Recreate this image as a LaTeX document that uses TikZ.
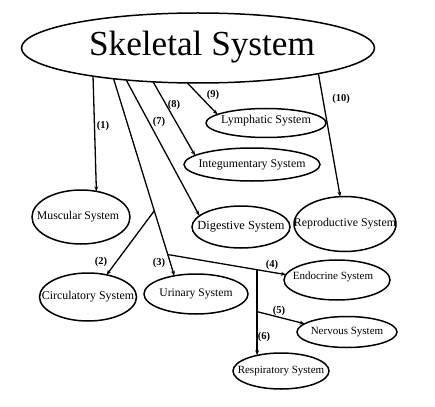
\documentclass[tikz,border=0pt]{standalone}
\usepackage{fontspec}
\setmainfont{Liberation Serif}
\usetikzlibrary{shapes.geometric,arrows.meta}
\tikzset{
  sys/.style={ellipse, draw, line width=1.5pt, inner sep=0pt, outer sep=0pt},
  conn/.style={line width=1.3pt, -{Stealth[length=5pt,width=3.8pt]}},
  thickconn/.style={line width=2pt, -{Stealth[length=5pt,width=3.8pt]}},
  num/.style={font=\bfseries\fontsize{10.5}{12}\selectfont, inner sep=0pt},
}
\newcommand{\fs}[1]{\fontsize{#1}{#1}\selectfont}
\begin{document}
\begin{tikzpicture}[x=1pt,y=-1pt]
\useasboundingbox (0,0) rectangle (435,406);
% nodes
\node[sys, minimum width=353, minimum height=70,
  label={[xshift=4pt,yshift=1pt]center:{\fs{35.2}Skeletal System}}] (sk) at (198,48) {};
\node[sys, minimum width=98, minimum height=54,
  label={[xshift=-3pt]center:{\fs{11.8}Muscular System}}] (mus) at (81,217) {};
\node[sys, minimum width=98, minimum height=42,
  label={center:{\fs{12.4}Digestive System}}] (dig) at (241,227) {};
\node[sys, minimum width=102, minimum height=55,
  label={center:{\fs{11.9}Reproductive System}}] (rep) at (345,224) {};
\node[sys, minimum width=97, minimum height=48,
  label={center:{\fs{11.9}Circulatory System}}] (cir) at (88,297) {};
\node[sys, minimum width=104, minimum height=40,
  label={center:{\fs{11.6}Urinary System}}] (uri) at (196,294) {};
\node[sys, minimum width=106, minimum height=40,
  label={[xshift=-4pt,yshift=3pt]center:{\fs{11}Endocrine System}}] (end) at (337,280) {};
\node[sys, minimum width=100, minimum height=31,
  label={center:{\fs{11}Nervous System}}] (ner) at (347,332) {};
\node[sys, minimum width=96, minimum height=36,
  label={center:{\fs{11}Respiratory System}}] (res) at (281,371) {};
\node[sys, minimum width=120, minimum height=29,
  label={[yshift=2pt]center:{\fs{12}Lymphatic System}}] (lym) at (266,123) {};
\node[sys, minimum width=136, minimum height=33,
  label={center:{\fs{11.85}Integumentary System}}] (int) at (252,164.5) {};
% connectors
\draw[conn] (sk.195.8) -- (mus.59);
\draw[conn] (sk.200.6) -- coordinate[pos=0.67] (b2) coordinate[pos=0.892] (b4) (uri.140.4);
\draw[conn] (b2) -- (cir.50.4);
\draw[conn] (b4) -- coordinate[pos=0.756] (b6) (end.174.5);
\draw[thickconn] (b6) -- coordinate[pos=0.49] (b5) (b6 |- res.146.9);
\draw[conn] (b5) -- (ner.169.7);
\draw[conn] (sk.204.7) -- (dig.165.1);
\draw[conn] (sk.217.3) -- (int.171.3);
\draw[conn] (sk.253) -- (lym.170.4);
\draw[conn] (sk.348.3) -- (rep.100);
% labels
\node[num] (l1) at (103,126) {(1)};
\node[num] (l2) at (101,262) {(2)};
\node[num] (l3) at (159,263) {(3)};
\node[num] (l4) at (272,265) {(4)};
\node[num] (l5) at (279,311) {(5)};
\node[num] (l6) at (264,337) {(6)};
\node[num] (l7) at (159,122) {(7)};
\node[num] (l8) at (174,105) {(8)};
\node[num] (l9) at (213,95) {(9)};
\node[num] (l10) at (341,99) {(10)};
\end{tikzpicture}
\end{document}
